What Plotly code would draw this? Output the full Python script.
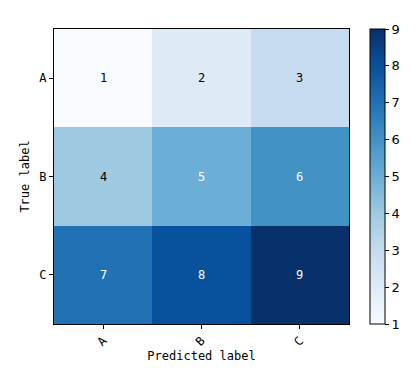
import plotly.graph_objects as go

classes = ["A", "B", "C"]
matrix = [[1, 2, 3],
          [4, 5, 6],
          [7, 8, 9]]
cbar_ticks = [1, 2, 3, 4, 5, 6, 7, 8, 9]

blues = ["#f7fbff", "#deebf7", "#c6dbef", "#9ecae1", "#6baed6",
         "#4292c6", "#2171b5", "#08519c", "#08306b"]
colorscale = [[i / (len(blues) - 1), c] for i, c in enumerate(blues)]

mono = "DejaVu Sans Mono"
thresh = max(max(r) for r in matrix) / 2

fig = go.Figure(go.Heatmap(
    z=matrix, x=classes, y=classes,
    colorscale=colorscale, zmin=1, zmax=9,
    hoverinfo="skip",
    colorbar=dict(
        x=1.071, xanchor="left", xpad=0, y=0.5, yanchor="middle",
        len=1.0, lenmode="fraction", thickness=15, ypad=0,
        outlinecolor="black", outlinewidth=1,
        tickvals=cbar_ticks, ticks="outside", ticklen=4, tickcolor="black",
        tickfont=dict(family="Liberation Sans Narrow, DejaVu Sans", size=13, color="black"),
    ),
))

for i, row in enumerate(matrix):
    for j, v in enumerate(row):
        fig.add_annotation(
            x=classes[j], y=classes[i], text=str(v), showarrow=False,
            font=dict(family=mono, size=12,
                      color="white" if v > thresh else "black"),
        )

fig.update_xaxes(
    title=dict(text="Predicted label", font=dict(family=mono, size=12, color="black"), standoff=2),
    tickangle=-45, ticks="outside", ticklen=4, tickcolor="black",
    tickfont=dict(family=mono, size=12, color="black"),
    showline=True, linecolor="black", linewidth=1, mirror=True,
    showgrid=False, zeroline=False, automargin=False,
)
fig.update_yaxes(
    title=dict(text="True label", font=dict(family=mono, size=12, color="black"), standoff=7),
    autorange="reversed", ticks="outside", ticklen=4, tickcolor="black",
    tickfont=dict(family=mono, size=12, color="black"),
    showline=True, linecolor="black", linewidth=1, mirror=True,
    showgrid=False, zeroline=False, automargin=False,
)

fig.update_layout(
    width=412, height=372,
    margin=dict(l=46, r=71, t=21, b=56),
    paper_bgcolor="white", plot_bgcolor="white",
    showlegend=False,
)

fig.write_html("out.html")
